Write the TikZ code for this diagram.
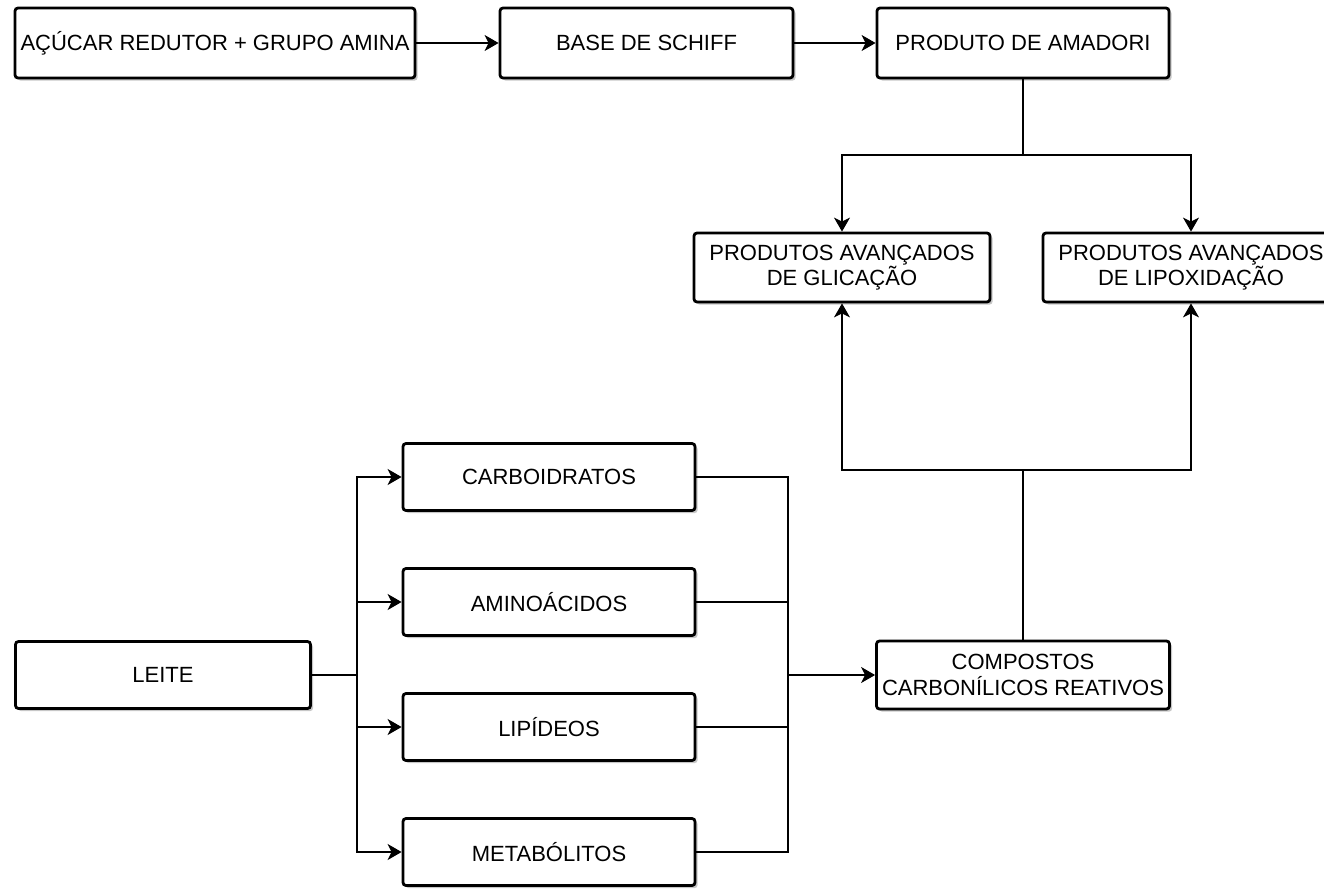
\documentclass[tikz,border=0pt]{standalone}
\usepackage{fontspec}
\setmainfont{Liberation Sans}
\usetikzlibrary{arrows.meta,shadows}
\begin{document}
\begin{tikzpicture}[x=0.5pt,y=-0.5pt,
  box/.style={draw=black, line width=1.4pt, rounded corners=1.5pt, fill=white,
    drop shadow={shadow xshift=1.3pt, shadow yshift=-1.3pt, fill=black!22, opacity=1},
    align=center, inner sep=1pt, font=\fontsize{11}{12.6}\selectfont, text=black},
  wide/.style={minimum width=#1*0.5pt},
  tall/.style={minimum height=#1*0.5pt},
  conn/.style={draw=black, line width=0.7pt},
  arr/.style={conn, -{Stealth[length=7pt,width=8pt,inset=2pt]}}
]
\useasboundingbox (0,0) rectangle (1324,889);

\node[box, wide=400, tall=70] (acucar)   at (215,43)  {AÇÚCAR REDUTOR + GRUPO AMINA};
\node[box, wide=293, tall=70] (schiff)   at (646.5,43) {BASE DE SCHIFF};
\node[box, wide=292, tall=70] (amadori)  at (1023,43) {PRODUTO DE AMADORI};
\node[box, wide=296, tall=69] (glic)     at (842,267.5) {PRODUTOS AVANÇADOS\\DE GLICAÇÃO};
\node[box, wide=296, tall=69] (lipox)    at (1191,267.5) {PRODUTOS AVANÇADOS\\DE LIPOXIDAÇÃO};
\node[box, wide=293, tall=68] (compost)  at (1023,675) {COMPOSTOS\\CARBONÍLICOS REATIVOS};
\node[box, wide=295, tall=67] (leite)    at (163,675) {LEITE};
\node[box, wide=292, tall=67] (carb)     at (549,477) {CARBOIDRATOS};
\node[box, wide=292, tall=67] (amino)    at (549,602) {AMINOÁCIDOS};
\node[box, wide=292, tall=67] (lip)      at (549,727) {LIPÍDEOS};
\node[box, wide=292, tall=67] (met)      at (549,852) {METABÓLITOS};

\coordinate (j1) at (1023,155);
\coordinate (j2) at (1023,470);
\coordinate (j3) at (357,675);
\coordinate (j4) at (788,675);

\draw[arr] (acucar.east) -- (schiff.west);
\draw[arr] (schiff.east) -- (amadori.west);

\draw[conn] (amadori.south) -- (j1);
\draw[arr] (j1) -| (glic.north);
\draw[arr] (j1) -| (lipox.north);

\draw[conn] (compost.north) -- (j2);
\draw[arr] (j2) -| (glic.south);
\draw[arr] (j2) -| (lipox.south);

\draw[conn] (leite.east) -- (j3);
\draw[arr, line width=0.95pt] (j3) |- (carb.west);
\draw[arr, line width=0.95pt] (j3) |- (amino.west);
\draw[arr, line width=0.95pt] (j3) |- (lip.west);
\draw[arr, line width=0.95pt] (j3) |- (met.west);

\draw[conn] (carb.east) -| (j4);
\draw[conn] (amino.east) -| (j4);
\draw[conn] (lip.east) -| (j4);
\draw[conn] (met.east) -| (j4);
\draw[arr] (j4) -- (compost.west);
\end{tikzpicture}
\end{document}
